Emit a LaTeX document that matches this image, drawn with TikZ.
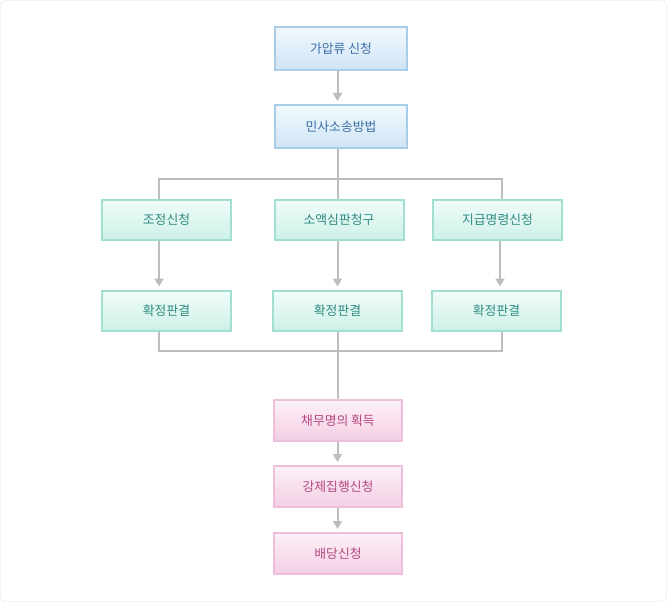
\documentclass[tikz,border=0pt]{standalone}
\usepackage{fontspec}
\newfontfamily\krfont{Noto Sans CJK KR}
\usetikzlibrary{arrows.meta}
\definecolor{lineg}{HTML}{BDBDBD}
\definecolor{frameg}{HTML}{DCDCDC}
\definecolor{blueb}{HTML}{A8CDE8}
\definecolor{bluet}{HTML}{F2F9FE}
\definecolor{blued}{HTML}{CFE4F5}
\definecolor{bluex}{HTML}{3A6EA5}
\definecolor{mintb}{HTML}{A2DFD2}
\definecolor{mintt}{HTML}{F1FCF9}
\definecolor{mintd}{HTML}{CDF1E7}
\definecolor{mintx}{HTML}{2E8A82}
\definecolor{pinkb}{HTML}{EDBFDA}
\definecolor{pinkt}{HTML}{FDF1F8}
\definecolor{pinkd}{HTML}{F3CEE3}
\definecolor{pinkx}{HTML}{B2477F}
\tikzset{
  box/.style={draw, line width=2pt, inner sep=0pt, font=\krfont\fontsize{12.8}{14}\selectfont},
  bluebox/.style={box, draw=blueb, top color=bluet, bottom color=blued, text=bluex, minimum width=132pt, minimum height=43pt},
  mintbox/.style={box, draw=mintb, top color=mintt, bottom color=mintd, text=mintx, minimum width=129pt, minimum height=40pt},
  pinkbox/.style={box, draw=pinkb, top color=pinkt, bottom color=pinkd, text=pinkx, minimum width=128pt, minimum height=41pt},
  link/.style={draw=lineg, line width=2pt},
  flow/.style={link, -{Triangle[width=9pt,length=8pt]}, shorten >=3pt}
}
\begin{document}
\begin{tikzpicture}[x=1pt,y=-1pt]
		\useasboundingbox (0,0) rectangle (667,602);
		\draw[frameg, rounded corners=5pt] (0.5,0.5) rectangle (666.5,601.5);
		
		\coordinate (trunk) at (337.5,0);
		
		\node[bluebox] (gaap) at (341,48.5) {가압류 신청};
		\node[bluebox] (minsa) at (341,126.5) {민사소송방법};
		
		\node[mintbox] (jojeong) at (166.5,220) {조정신청};
		\node[mintbox] (soaek) at (339,220) {소액심판청구};
		\node[mintbox] (jigeup) at (497.5,220) {지급명령신청};
		
		\node[mintbox] (hwak1) at (166.5,310.5) {확정판결};
		\node[mintbox] (hwak2) at (337.5,310.5) {확정판결};
		\node[mintbox] (hwak3) at (496.5,310.5) {확정판결};
		
		\node[pinkbox] (chaemu) at (338,420.5) {채무명의 획득};
		\node[pinkbox] (gangje) at (338,486.5) {강제집행신청};
		\node[pinkbox] (baedang) at (338,553.5) {배당신청};
		
		\coordinate (split) at (337.5,179);
		\coordinate (merge) at (337.5,351);
		
		% top part
		\draw[flow] (gaap.south -| trunk) -- (minsa.north -| trunk);
		\draw[link] (minsa.south -| trunk) -- (split);
		\draw[link] (jojeong.north -| 159,0) |- (split) -| (jigeup.north -| 501.5,0);
		\draw[link] (split) -- (soaek.north -| trunk);
		
		% three ways
		\draw[flow] (jojeong.south -| 159,0) -- (hwak1.north -| 159,0);
		\draw[flow] (soaek.south -| trunk) -- (hwak2.north -| trunk);
		\draw[flow] (jigeup.south -| 500,0) -- (hwak3.north -| 500,0);
		
		% join
		\draw[link] (hwak1.south -| 159,0) |- (merge) -| (hwak3.south -| 501.5,0);
		\draw[link] (hwak2.south -| trunk) -- (chaemu.north -| trunk);
		
		\draw[flow] (chaemu.south -| trunk) -- (gangje.north -| trunk);
		\draw[flow] (gangje.south -| trunk) -- (baedang.north -| trunk);
	\end{tikzpicture}
\end{document}
